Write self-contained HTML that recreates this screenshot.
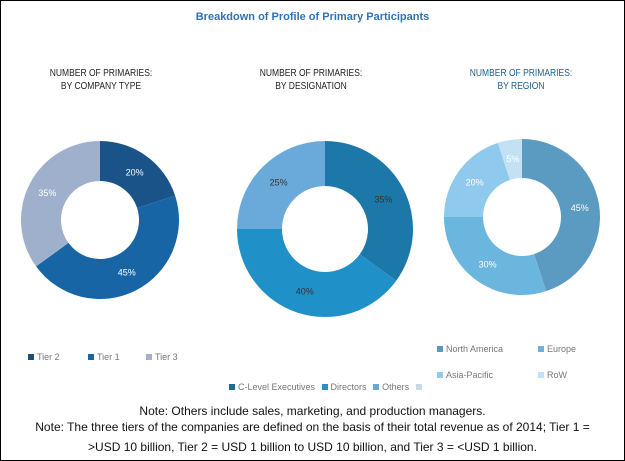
<!DOCTYPE html>
<html><head><meta charset="utf-8"><style>
body{margin:0;background:#fff}
#wrap{position:relative;width:623px;height:459px;border:1px solid #000;overflow:hidden;font-family:"Liberation Sans",sans-serif}
.t{position:absolute;white-space:nowrap}
.sub{font-size:10px;color:#222;text-align:center;transform:scaleX(0.85);line-height:13px}
.leg{font-size:9px;color:#777}
.sw{display:inline-block;width:6px;height:6px;margin-right:3px}
.note{font-size:12px;color:#111;width:623px;text-align:center;left:0}
</style></head><body>
<div id="wrap">
<div class="t" style="left:0;width:623px;text-align:center;top:10px;font-size:11px;font-weight:bold;color:#2e74b5">Breakdown of Profile of Primary Participants</div>
<div class="t sub" style="left:30px;width:140px;top:66px">NUMBER OF PRIMARIES:<br>BY COMPANY TYPE</div>
<div class="t sub" style="left:240px;width:140px;top:66px">NUMBER OF PRIMARIES:<br>BY DESIGNATION</div>
<div class="t sub" style="left:450px;width:140px;top:66px;color:#1f5f8b">NUMBER OF PRIMARIES:<br>BY REGION</div>
<svg id="svg" width="623" height="459" style="position:absolute;left:0;top:0"></svg>
<div class="t leg" style="left:27px;top:351px"><span class="sw" style="background:#1f4e79"></span>Tier 2</div>
<div class="t leg" style="left:87px;top:351px"><span class="sw" style="background:#1e64a0"></span>Tier 1</div>
<div class="t leg" style="left:145px;top:351px"><span class="sw" style="background:#a3b1cb"></span>Tier 3</div>
<div class="t leg" style="left:228px;top:381px"><span class="sw" style="background:#1f6a99"></span>C-Level Executives <span class="sw" style="background:#2a8fc7;margin-left:4px"></span>Directors <span class="sw" style="background:#6aa6d6;margin-left:4px"></span>Others <span class="sw" style="background:#c9d9e8;margin-left:4px"></span></div>
<div class="t leg" style="left:436px;top:343px"><span class="sw" style="background:#5b98bd"></span>North America</div>
<div class="t leg" style="left:537px;top:343px"><span class="sw" style="background:#6ab3dd"></span>Europe</div>
<div class="t leg" style="left:436px;top:369px"><span class="sw" style="background:#93c9ec"></span>Asia-Pacific</div>
<div class="t leg" style="left:537px;top:369px"><span class="sw" style="background:#c4e1f5"></span>RoW</div>
<div class="t note" style="top:403px">Note: Others include sales, marketing, and production managers.</div>
<div class="t note" style="top:419px">Note: The three tiers of the companies are defined on the basis of their total revenue as of 2014; Tier 1 =</div>
<div class="t note" style="top:439px">&gt;USD 10 billion, Tier 2 = USD 1 billion to USD 10 billion, and Tier 3 = &lt;USD 1 billion.</div>
</div>
<script>
const companyLabels=["Tier 2","Tier 1","Tier 3"];
const companyValues=[20,45,35];
const designationLabels=["C-Level Executives","Directors","Others"];
const designationValues=[35,40,25];
const regionLabels=["North America","Europe","Asia-Pacific","RoW"];
const regionValues=[45,30,20,5];
const NS="http://www.w3.org/2000/svg";
const svg=document.getElementById('svg');
function pt(cx,cy,r,a){return [cx+r*Math.sin(a),cy-r*Math.cos(a)];}
function donut(cx,cy,R,r,vals,labels,colors,txt,key){
  const tot=vals.reduce((a,b)=>a+b,0);let a0=0;
  vals.forEach((v,i)=>{
    const a1=a0+v/tot*2*Math.PI;const lg=(a1-a0)>Math.PI?1:0;
    const p1=pt(cx,cy,R,a0),p2=pt(cx,cy,R,a1),p3=pt(cx,cy,r,a1),p4=pt(cx,cy,r,a0);
    const p=document.createElementNS(NS,'path');
    p.setAttribute('d',`M${p1}A${R},${R} 0 ${lg} 1 ${p2}L${p3}A${r},${r} 0 ${lg} 0 ${p4}Z`);
    p.setAttribute('fill',colors[i]);
    
    
    svg.appendChild(p);
    const m=(a0+a1)/2,lp=pt(cx,cy,(R+r)/2,m);
    const t=document.createElementNS(NS,'text');
    t.setAttribute('x',lp[0]);t.setAttribute('y',lp[1]+3);
    t.setAttribute('text-anchor','middle');t.setAttribute('font-size','9');
    t.setAttribute('font-family','Liberation Sans, sans-serif');t.setAttribute('fill',txt);
    t.textContent=v+'%';
    
    
    svg.appendChild(t);
    a0=a1;
  });
}
donut(99,219,79,39,companyValues,companyLabels,["#1a5388","#1865a6","#9fb0cc"],"#fff","company");
donut(324,228,88,43,designationValues,designationLabels,["#1b78a9","#1f90c8","#6aaadb"],"#333","designation");
donut(521,216,78,39,regionValues,regionLabels,["#5b9bc2","#6ab6df","#8fcaee","#c2e1f5"],"#fff","region");
</script>
</body></html>
